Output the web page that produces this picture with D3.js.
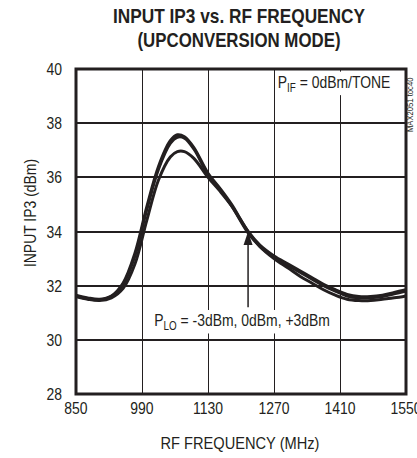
<!DOCTYPE html>
<html lang="en">
  <head>
    <meta charset="utf-8">
    <title>input ip3 vs rf frequency</title>
    <script src="https://d3js.org/d3.v7.min.js"></script>
    <style type="text/css">
      body { margin: 0; background: #fff; }
      text { fill: #231f20; font-family: "Liberation Sans", Arial, sans-serif; }
      .title { font-weight: bold; font-size: 21px; }
      .tick { font-size: 17px; }
      .label { font-size: 17px; }
      .note { font-size: 17px; }
      .curve { fill: none; stroke: #231f20; stroke-width: 3; }
      .grid line { stroke: #231f20; stroke-width: 1; }
      .grid .domain { display: none; }
    </style>
  </head>
  <body>
    <svg id="chart" width="417" height="458"></svg>
    <script type="text/javascript">
      // RF frequency (MHz) and input IP3 (dBm) for the three LO drive levels
      var freqs = [850, 875, 900, 925, 950, 975, 1000, 1025, 1050, 1065, 1080, 1100, 1130, 1155, 1180, 1215, 1240, 1270, 1300, 1325, 1350, 1375, 1400, 1425, 1450, 1475, 1500, 1525, 1550];
      var ip3Minus3 = [31.65, 31.55, 31.5, 31.62, 32.1, 33.2, 34.9, 36.4, 37.35, 37.57, 37.5, 37.1, 36.15, 35.6, 35.0, 34.0, 33.5, 33.1, 32.8, 32.55, 32.3, 32.05, 31.85, 31.68, 31.6, 31.6, 31.65, 31.75, 31.85];
      var ip3Zero = [31.62, 31.52, 31.48, 31.6, 32.05, 33.1, 34.8, 36.3, 37.25, 37.48, 37.45, 37.05, 36.1, 35.55, 34.95, 33.95, 33.45, 33.05, 32.75, 32.5, 32.25, 32.0, 31.8, 31.62, 31.55, 31.55, 31.6, 31.7, 31.8];
      var ip3Plus3 = [31.6, 31.5, 31.45, 31.55, 31.9, 32.8, 34.4, 35.9, 36.75, 36.95, 36.95, 36.7, 36.0, 35.5, 34.95, 34.0, 33.45, 33.0, 32.65, 32.35, 32.1, 31.85, 31.65, 31.5, 31.45, 31.45, 31.5, 31.55, 31.62];
      var xTicks = [850, 990, 1130, 1270, 1410, 1550];
      var yTicks = [28, 30, 32, 34, 36, 38, 40];

      var svg = d3.select("#chart"),
        margin = {top: 69, right: 11, bottom: 64, left: 76},
        width = 417 - margin.left - margin.right,
        height = 458 - margin.top - margin.bottom;

      var x = d3.scaleLinear().domain([850, 1550]).range([margin.left, margin.left + width]);
      var y = d3.scaleLinear().domain([28, 40]).range([margin.top + height, margin.top]);

      // no narrow font installed, so squeeze the text a bit
      var narrow = function(sel, f) {
        sel.each(function() {
          var w = this.getComputedTextLength();
          d3.select(this).attr("textLength", w * f).attr("lengthAdjust", "spacingAndGlyphs");
        });
      };

      // vertical grid from an axis with long ticks
      svg.append("g")
        .attr("class", "grid")
        .attr("transform", "translate(0," + y(28) + ")")
        .call(d3.axisBottom(x).tickValues(xTicks.slice(1, -1)).tickSize(-height).tickFormat(""));
      // horizontal grid as thin bars
      svg.selectAll(".hgrid")
        .data(yTicks.slice(1, -1))
        .enter().append("rect")
          .attr("class", "hgrid")
          .attr("x", x(850))
          .attr("y", function(d) { return Math.round(y(d)) - 1; })
          .attr("width", width)
          .attr("height", 2)
          .attr("fill", "#231f20");

      // curves
      var line = d3.line()
        .x(function(d, i) { return x(freqs[i]); })
        .y(function(d) { return y(d); })
        .curve(d3.curveCatmullRom);

      [ip3Minus3, ip3Zero, ip3Plus3].forEach(function(s) {
        svg.append("path")
          .datum(s)
          .attr("class", "curve")
          .attr("d", line);
      });

      // notes with white backgrounds, squeezed horizontally
      var addNote = function(fx, vy, sub, rest) {
        var g = svg.append("g")
          .attr("transform", "translate(" + x(fx) + "," + y(vy) + ") scale(0.82,1)");
        var t = g.append("text").attr("class", "note");
        t.append("tspan").text("P");
        t.append("tspan").attr("font-size", "12px").attr("dy", 4).text(sub);
        t.append("tspan").attr("dy", -4).text(rest);
        var b = t.node().getBBox();
        g.insert("rect", "text")
          .attr("x", b.x - 3).attr("y", b.y - 1)
          .attr("width", b.width + 6).attr("height", b.height + 2)
          .attr("fill", "#fff");
      };
      addNote(1278, 39.3, "IF", " = 0dBm/TONE");
      addNote(1016, 30.5, "LO", " = -3dBm, 0dBm, +3dBm");

      // arrow
      var ax = x(1215);
      svg.append("line")
        .attr("x1", ax).attr("x2", ax)
        .attr("y1", y(31.2)).attr("y2", y(33.6))
        .attr("stroke", "#231f20").attr("stroke-width", 1.5);
      svg.append("path")
        .attr("d", d3.line()([[ax - 4.5, y(33.5)], [ax + 4.5, y(33.5)], [ax, y(34)]]) + "Z")
        .attr("fill", "#231f20");

      // frame
      svg.append("rect")
        .attr("x", x(850)).attr("y", y(40))
        .attr("width", x(1550) - x(850)).attr("height", y(28) - y(40))
        .attr("fill", "none").attr("stroke", "#231f20").attr("stroke-width", 3);

      // tick labels
      svg.selectAll(".xlab")
        .data(xTicks)
        .enter().append("text")
          .attr("class", "tick")
          .attr("x", function(d) { return x(d); })
          .attr("y", y(28) + 20)
          .attr("text-anchor", "middle")
          .text(function(d) { return d; })
          .call(narrow, 0.82);
      svg.selectAll(".ylab")
        .data(yTicks)
        .enter().append("text")
          .attr("class", "tick")
          .attr("x", x(850) - 14)
          .attr("y", function(d) { return y(d) + 6; })
          .attr("text-anchor", "end")
          .text(function(d) { return d; })
          .call(narrow, 0.82);

      // axis titles
      svg.append("text")
        .attr("class", "label")
        .attr("x", 240)
        .attr("y", 449)
        .attr("text-anchor", "middle")
        .text("RF FREQUENCY (MHz)")
        .call(narrow, 0.86);
      svg.append("text")
        .attr("class", "label")
        .attr("transform", "translate(36,213) rotate(-90)")
        .attr("text-anchor", "middle")
        .attr("font-size", "16px")
        .text("INPUT IP3 (dBm)")
        .call(narrow, 0.82);

      // title
      svg.append("text")
        .attr("class", "title")
        .attr("x", 239).attr("y", 23)
        .attr("text-anchor", "middle")
        .attr("textLength", 252).attr("lengthAdjust", "spacingAndGlyphs")
        .text("INPUT IP3 vs. RF FREQUENCY");
      svg.append("text")
        .attr("class", "title")
        .attr("x", 239).attr("y", 47)
        .attr("text-anchor", "middle")
        .attr("textLength", 203).attr("lengthAdjust", "spacingAndGlyphs")
        .text("(UPCONVERSION MODE)");

      // figure id
      svg.append("text")
        .attr("transform", "translate(413,132) rotate(-90)")
        .attr("font-size", "9px")
        .text("MAX2051 toc40")
        .call(narrow, 0.85);
    </script>
  </body>
</html>
